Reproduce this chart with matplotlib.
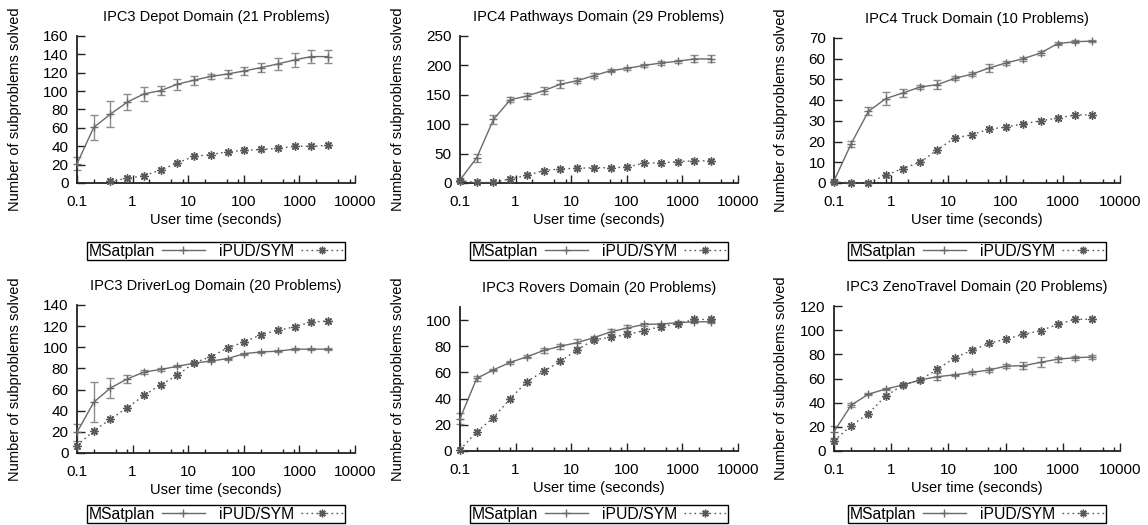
import matplotlib
matplotlib.use("Agg")
import matplotlib.pyplot as plt
from matplotlib.lines import Line2D
import numpy as np

plt.rcParams['font.family'] = ['Liberation Sans', 'DejaVu Sans']
plt.rcParams['font.size'] = 10

# time points (seconds)
times = [0.1, 0.2, 0.4, 0.8, 1.6, 3.2, 6.4, 12.8, 25.6, 51.2, 102.4, 204.8, 409.6, 819.2, 1638.4, 3276.8]

titles = [
    "IPC3 Depot Domain (21 Problems)",
    "IPC4 Pathways Domain (29 Problems)",
    "IPC4 Truck Domain (10 Problems)",
    "IPC3 DriverLog Domain (20 Problems)",
    "IPC3 Rovers Domain (20 Problems)",
    "IPC3 ZenoTravel Domain (20 Problems)",
]

nan = float('nan')

# MSatplan means and error half-widths
depot_ms = [21, 60.5, 75, 88, 97, 100.6, 107.5, 112, 116, 118.7, 122, 125.6, 129.6, 134, 137.6, 137.6]
depot_ms_err = [7, 14, 14, 9, 8, 5, 6, 5, 3, 4, 4, 4.5, 6.5, 7.5, 7.5, 7.5]
depot_ipud = [nan, nan, 2, 5, 8, 14, 22, 29, 31, 34, 35.5, 36.5, 37.6, 40, 40, 41]

path_ms = [5, 43, 108, 141.5, 148, 157, 168, 174, 182.6, 191, 195, 200, 204, 207, 211, 211]
path_ms_err = [3, 7, 7, 4, 5, 6, 7, 4, 4, 3, 3, 3, 3, 3, 6, 6]
path_ipud = [4, 1, 1, 7, 13, 21, 24, 25, 26, 26, 27, 34, 34, 36.5, 37.7, 37.7]

truck_ms = [1, 19, 34.6, 40.7, 43.5, 46.3, 47.5, 50.5, 52.5, 55.5, 58, 60, 62.8, 67.3, 68.2, 68.5]
truck_ms_err = [0.8, 1.5, 2, 3, 2, 1, 2, 1, 1, 2, 1, 1, 1, 0.6, 0.6, 0.6]
truck_ipud = [0.5, 0.2, 0.2, 3.7, 7, 10, 16, 21.7, 23.3, 26, 27, 28.6, 30, 31.4, 32.8, 33]

driver_ms = [19.6, 48, 61.5, 70, 76.6, 79, 82, 85, 87, 89.3, 94, 95.6, 96.3, 98.2, 98.2, 98.2]
driver_ms_err = [8, 19, 9.5, 4, 1.5, 1.5, 1, 1, 1, 1, 1, 1, 1, 1, 1, 1]
driver_ipud = [7, 21, 32, 42.8, 54.5, 64.6, 73.5, 85.5, 91, 99.5, 105, 112, 116, 119.4, 124, 124.8]

rovers_ms = [24.7, 55.5, 62, 67.7, 72, 76.8, 80, 82.8, 86.6, 91, 94, 96.7, 97, 98, 98.7, 98.7]
rovers_ms_err = [4, 2, 1, 1, 1, 2, 2, 3, 1, 2, 2, 1, 1, 1, 1, 1]
rovers_ipud = [1, 14.6, 25.5, 40, 53, 61, 68.4, 77.3, 84.8, 86.9, 89, 92, 95, 97.2, 100.5, 100.5]

zeno_ms = [16, 38, 47, 51.3, 54.6, 58.8, 61.5, 63, 65, 67, 70.3, 70.6, 73.4, 76, 77.2, 77.8]
zeno_ms_err = [5, 1.5, 1, 1, 1, 2, 3, 1, 1, 2, 2, 3, 4, 2, 1.5, 2]
zeno_ipud = [8.5, 21, 31, 45.5, 54.6, 58.8, 67.6, 77, 83.3, 89, 92.7, 96.5, 99.6, 104.8, 109, 109]

ms_series = [depot_ms, path_ms, truck_ms, driver_ms, rovers_ms, zeno_ms]
ms_errs = [depot_ms_err, path_ms_err, truck_ms_err, driver_ms_err, rovers_ms_err, zeno_ms_err]
ipud_series = [depot_ipud, path_ipud, truck_ipud, driver_ipud, rovers_ipud, zeno_ipud]

y_ticks = [
    [0, 20, 40, 60, 80, 100, 120, 140, 160],
    [0, 50, 100, 150, 200, 250],
    [0, 10, 20, 30, 40, 50, 60, 70],
    [0, 20, 40, 60, 80, 100, 120, 140],
    [0, 20, 40, 60, 80, 100],
    [0, 20, 40, 60, 80, 100, 120],
]
y_tops = [160, 250, 70, 140, 110, 120]

x_ticks = [0.1, 1, 10, 100, 1000, 10000]
x_ticklabels = ["0.1", "1", "10", "100", "1000", "10000"]

W, H = 1148, 525
# pixel boxes: (left, right, top, bottom, panel_x0, legend_offset)
boxes = [
    (77, 355, 36, 183, 0, 59),
    (460, 738, 36, 183, 383, 59),
    (834, 1120, 38, 183, 766, 59),
    (77, 355, 305, 453, 0, 52),
    (460, 738, 307, 451, 383, 54),
    (834, 1120, 306, 451, 766, 54),
]

fig = plt.figure(figsize=(W / 100, H / 100), dpi=100)

line_col = '#6a6a6a'
err_col = '#8c8c8c'
star_col = '#5a5a5a'
axis_col = '#222222'

for i in range(6):
    l, r, t, b, px0, loff = boxes[i]
    ax = fig.add_axes([l / W, 1 - b / H, (r - l) / W, (b - t) / H])
    ax.set_xscale('log')
    ax.set_xlim(0.1, 10000)
    ax.set_ylim(0, y_tops[i])

    ax.errorbar(times, ms_series[i], yerr=ms_errs[i], fmt='none', ecolor=err_col,
                elinewidth=1.0, capsize=2.6, capthick=1.0, zorder=2, clip_on=False)
    h1, = ax.plot(times, ms_series[i], color=line_col, lw=1.0, marker='+', ms=6,
                  mew=1.0, zorder=3, clip_on=False)
    h2, = ax.plot(times, ipud_series[i], color=star_col, lw=1.0, ls=(0, (1.2, 2.4)),
                  marker=(8, 2, 0), ms=6, mew=1.0, zorder=4, clip_on=False)

    for s in ['top', 'right']:
        ax.spines[s].set_visible(False)
    for s in ['left', 'bottom']:
        ax.spines[s].set_color(axis_col)
        ax.spines[s].set_linewidth(1.3)

    ax.set_xticks(x_ticks)
    ax.set_xticklabels(x_ticklabels)
    ax.xaxis.set_minor_locator(matplotlib.ticker.LogLocator(base=10, subs=(2, 5, 8)))
    ax.xaxis.set_minor_formatter(matplotlib.ticker.NullFormatter())
    ax.set_yticks(y_ticks[i])
    ax.tick_params(axis='both', which='major', direction='in', length=6, width=1.0,
                   color=axis_col, labelsize=11, labelcolor='black')
    ax.tick_params(axis='both', which='minor', direction='in', length=3, width=1.0, color=axis_col)
    ax.tick_params(axis='x', which='major', pad=9)
    ax.tick_params(axis='y', which='major', pad=6)
    ax.tick_params(axis='y', which='minor', left=False)

    ax.set_title(titles[i], fontsize=10.5, pad=11)
    ax.set_xlabel("User time (seconds)", fontsize=10.5)
    ax.xaxis.set_label_coords(0.5, -30 / (b - t))
    ax.xaxis.label.set_va('top')
    ax.set_ylabel("Number of subproblems solved", fontsize=10.5)
    ylab_x = px0 + 15
    ax.yaxis.set_label_coords((ylab_x - l) / (r - l), 0.5)
    ax.yaxis.label.set_va('center')

    leg_h1 = Line2D([], [], color=line_col, lw=1.0, marker='+', ms=6, mew=1.0)
    leg_h2 = Line2D([], [], color=star_col, lw=1.0, ls=(0, (1.2, 2.4)), marker=(8, 2, 0), ms=5.5, mew=1.0)
    leg = ax.legend([leg_h1, leg_h2], ["MSatplan", "iPUD/SYM"], loc='upper center',
                    bbox_to_anchor=(0.5, -loff / (b - t)), ncol=2, frameon=True, fancybox=False,
                    edgecolor='black', markerfirst=False, fontsize=11.3, borderpad=0.1,
                    handlelength=2.7, handletextpad=0.45, columnspacing=0.9, borderaxespad=0.0,
                    framealpha=1)
    leg.get_frame().set_linewidth(1.0)

fig.savefig("out.png", dpi=100)
